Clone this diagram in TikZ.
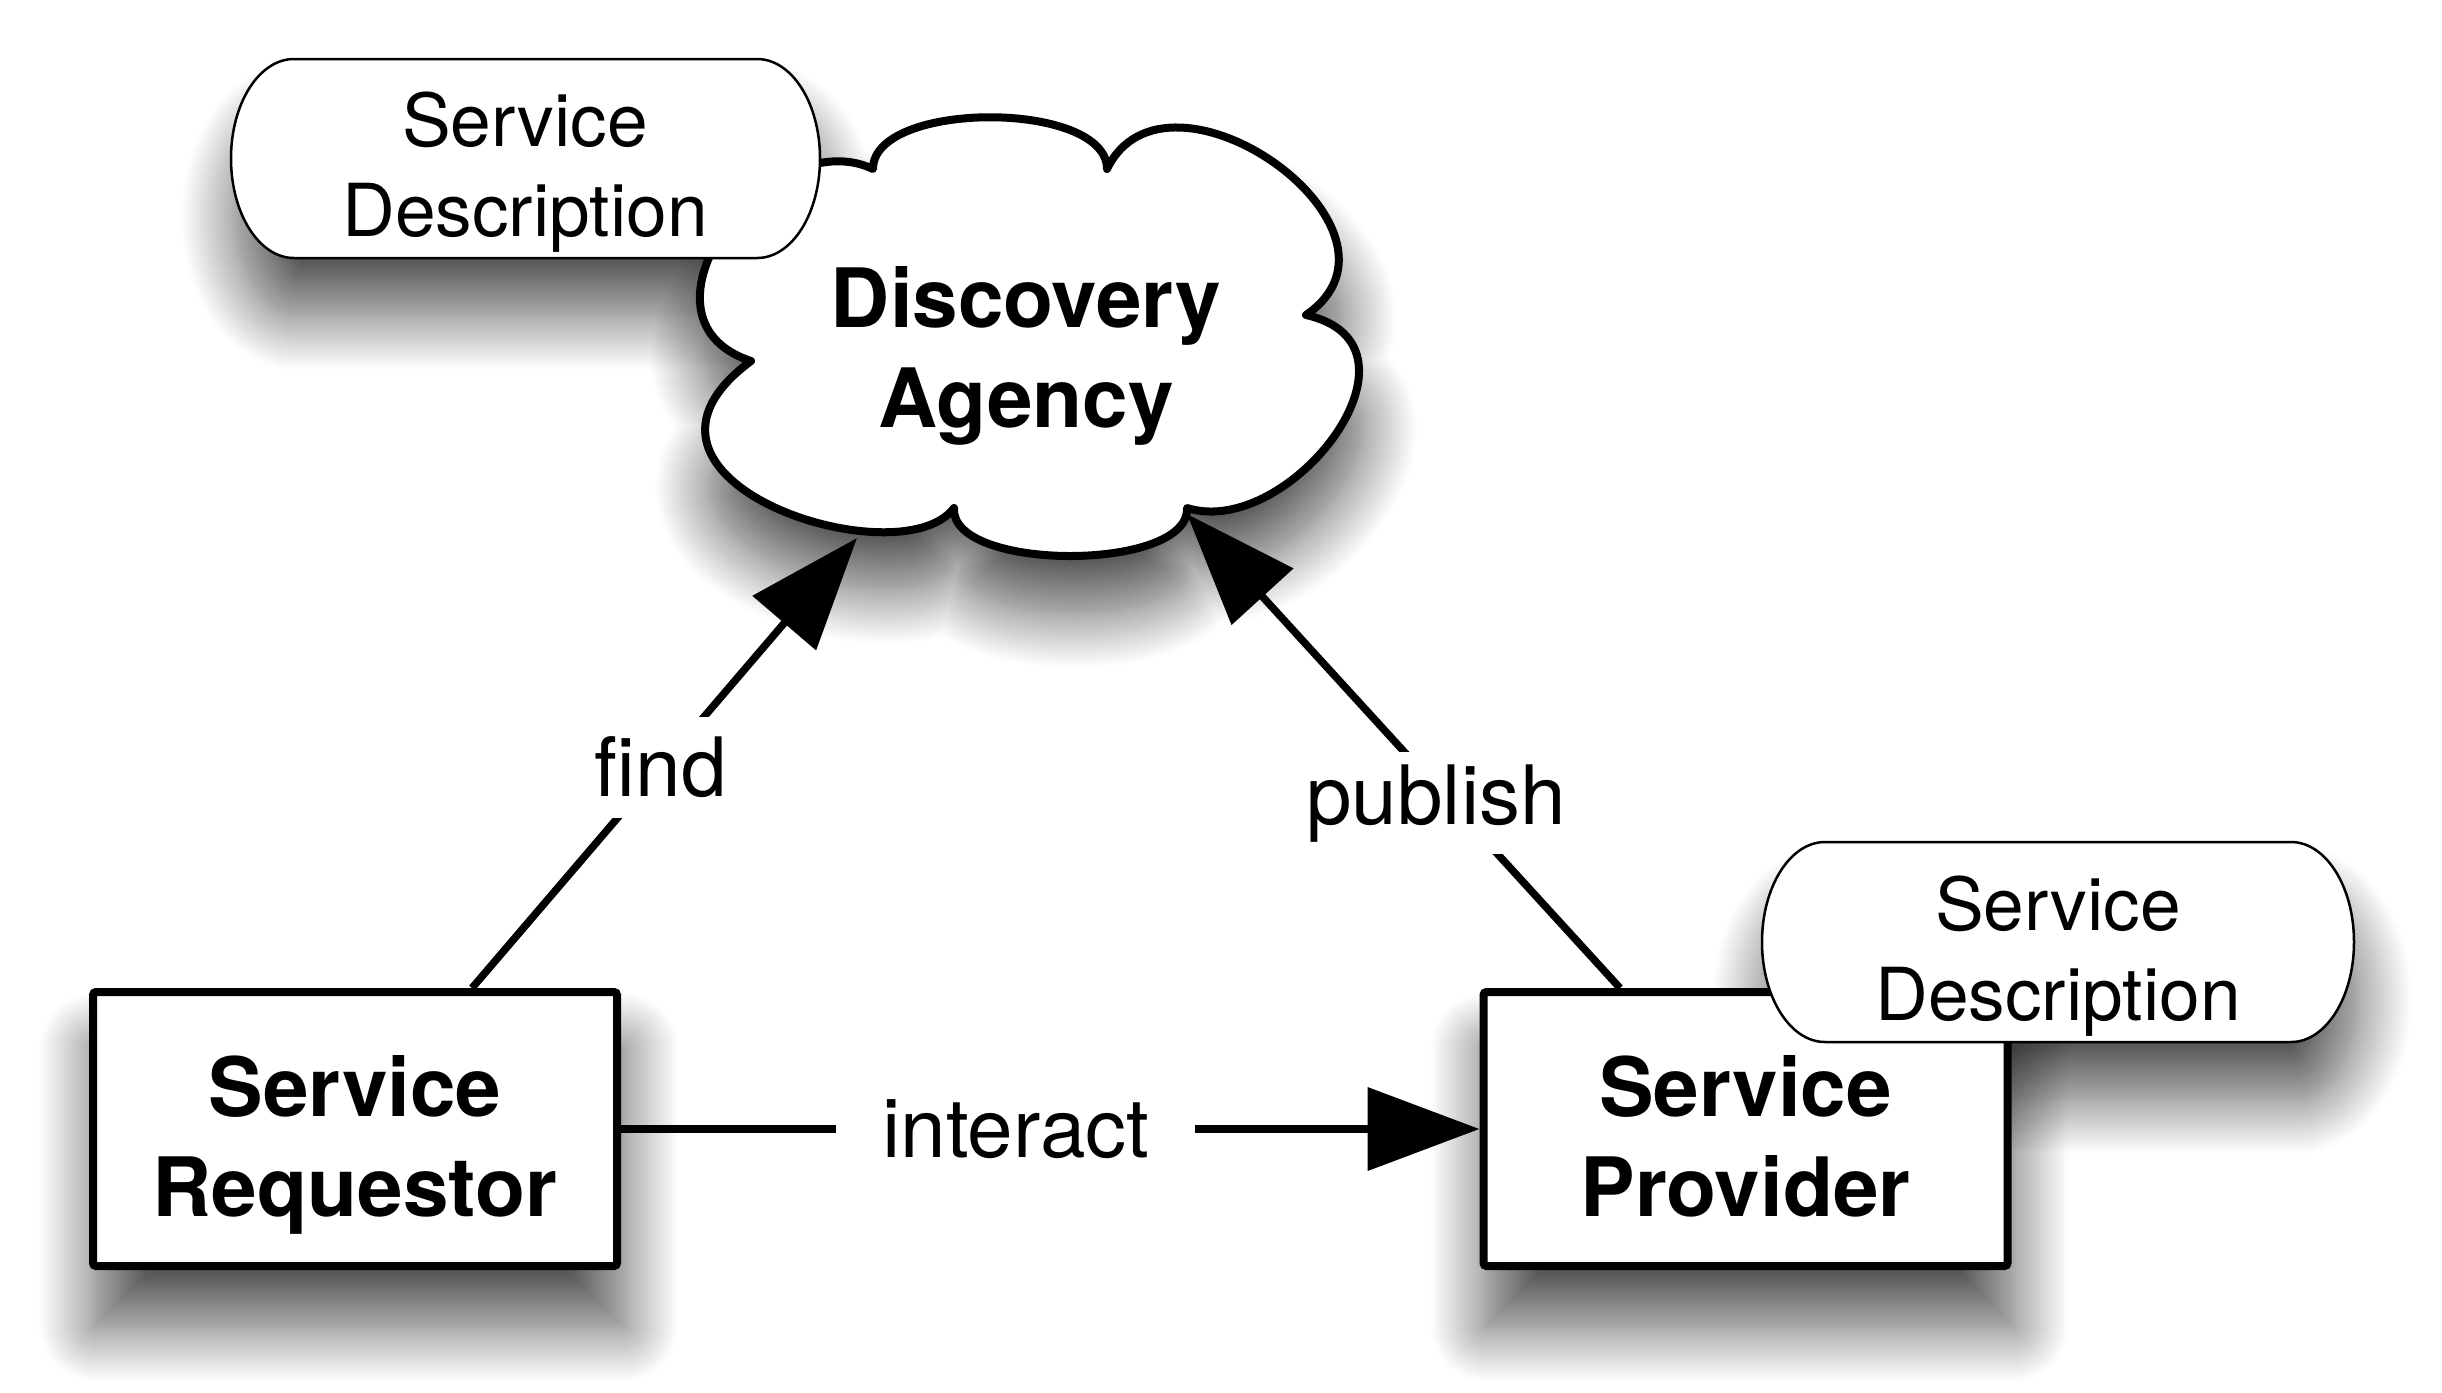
\documentclass[tikz,border=0pt]{standalone}
\usepackage{fontspec}
\setmainfont{TeX Gyre Heros}
\usetikzlibrary{arrows.meta,calc,shadows.blur}
\tikzset{
  shad/.style={blur shadow={shadow xshift=0.4mm, shadow yshift=-5.8mm, shadow blur radius=5.4mm,
    shadow opacity=65, shadow blur steps=24}},
  boxnode/.style={draw, line width=0.8mm, fill=white, minimum width=52.4mm, minimum height=27.4mm,
    inner sep=0pt, rounded corners=0.3mm},
  cloudline/.style={draw, line width=0.8mm, fill=white, line join=round},
  bubbleline/.style={draw, line width=0.25mm, fill=white},
  desc/.style={align=center, font=\fontsize{20.8}{25.8}\selectfont, inner sep=0pt},
  title/.style={align=center, font=\bfseries\fontsize{23.3}{28.45}\selectfont, inner sep=0pt},
  conn/.style={line width=0.75mm, -{Triangle[length=11.2mm,width=8.2mm,fill=black]}},
  lbl/.style={fill=white, font=\fontsize{23.3}{28}\selectfont, inner xsep=4.6mm, inner ysep=2mm},
}
\newcommand\sdbubble[5]{%
  \path[#1] ({#2+63},#3) -- ({#4-63},#3)
    .. controls ({#4-28},#3) and (#4,{(#3+#5)/2-55}) .. (#4,{(#3+#5)/2})
    .. controls (#4,{(#3+#5)/2+55}) and ({#4-28},#5) .. ({#4-63},#5)
    -- ({#2+63},#5)
    .. controls ({#2+28},#5) and (#2,{(#3+#5)/2+55}) .. (#2,{(#3+#5)/2})
    .. controls (#2,{(#3+#5)/2-55}) and ({#2+28},#3) .. cycle;}
\newcommand\cloudpath{(873,169)
  .. controls (873,100) and (1107,100) .. (1107,169)
  .. controls (1167,45) and (1430,230) .. (1306,315)
  .. controls (1440,345) and (1290,540) .. (1187,508)
  .. controls (1190,572) and (950,572) .. (954,508)
  .. controls (900,580) and (590,480) .. (751,361)
  .. controls (620,318) and (770,120) .. (873,169) -- cycle}
\begin{document}
\begin{tikzpicture}[x=0.1mm,y=-0.1mm]
\useasboundingbox (0,0) rectangle (2442,1392);
% ---- shadows (all below the shapes)
\sdbubble{shad}{231}{59}{820}{258}
\path[shad] \cloudpath;
\path[shad,rounded corners=0.3mm] (89,988) rectangle (621,1270);
\path[shad,rounded corners=0.3mm] (1480,988) rectangle (2011,1270);
\sdbubble{shad}{1762}{842}{2354}{1042}
% ---- discovery agency cloud
\path[cloudline] \cloudpath;
\node[title] (da) at (1026,356) {Discovery\\Agency};
% ---- upper description bubble
\sdbubble{bubbleline}{231}{59}{820}{258}
\node[desc] (sd1) at (525,172) {Service\\Description};
% ---- boxes
\node[boxnode] (req) at (355,1129) {};
\node[title] (reqt) at (355,1145) {Service\\Requestor};
\node[boxnode] (prov) at (1745.5,1129) {};
\node[title] (provt) at (1745.5,1136) {Service\\Provider};
% ---- lower description bubble
\sdbubble{bubbleline}{1762}{842}{2354}{1042}
\node[desc] (sd2) at (2058,956) {Service\\Description};
% ---- connectors
\coordinate (findtip) at (857,538);
\coordinate (pubtip) at (1187,514);
\draw[conn] ($(req.north west)!0.72!(req.north east)$) -- node[lbl,pos=0.49] (lfind) {find} (findtip);
\draw[conn] ($(prov.north west)!0.264!(prov.north east)$) -- node[lbl,pos=0.39,xshift=-1.5mm,inner ysep=1.2mm] (lpub) {publish} (pubtip);
\draw[conn] (req.east) -- node[lbl,pos=0.46] (lint) {interact} (prov.west);
\end{tikzpicture}
\end{document}
